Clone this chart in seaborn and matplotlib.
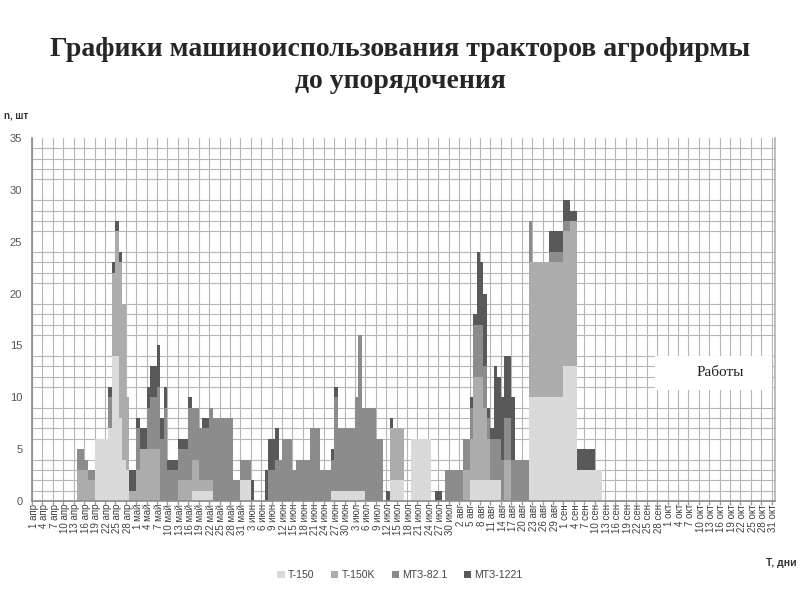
import matplotlib
matplotlib.use("Agg")
import matplotlib.pyplot as plt
import seaborn as sns
import numpy as np
import pandas as pd
from matplotlib.patches import Rectangle, Patch

sns.set_theme(style="white")
plt.rcParams['font.family'] = ['Liberation Sans', 'DejaVu Sans']

# ---- calendar / tick labels ----
months = ["апр", "май", "июн", "июл", "авг", "сен", "окт"]
month_len = [30, 31, 30, 31, 31, 30, 31]
day_labels = [f"{d} {m}" for m, n in zip(months, month_len) for d in range(1, n + 1)]

series_names = ["T-150", "T-150K", "МТЗ-82.1", "МТЗ-1221"]
series_colors = ["#dadada", "#acacac", "#8c8c8c", "#595959"]

# ---- daily counts of working tractors ----
t150 = (
    [0,0,0,0,0,0,0,0,0,0, 0,0,0,0,0,0,0,0,6,6, 6,6,7,14,14,8,4,3,0,0] +            # апр
    [0,0,0,0,0,0,0,0,0,0, 0,0,0,0,0,0,1,1,1,1, 1,1,0,0,0,0,0,0,0,0, 2] +         # май
    [2,2,0,0,0,0,0,0,0,0, 0,0,0,0,0,0,0,0,0,0, 0,0,0,0,0,1,1,1,1,1] +            # июн
    [1,1,1,1,1,0,0,0,0,0, 0,0,2,2,2,2,0,0,6,6, 6,6,6,6,0,0,0,0,0,0, 0] +         # июл
    [0,0,0,0,2,2,2,2,2,2, 2,2,2,0,0,0,0,0,0,0, 0,10,10,10,10,10,10,10,10,10, 10] +  # авг
    [13,13,13,13,3,3,3,3,3,3, 3,0,0,0,0,0,0,0,0,0, 0,0,0,0,0,0,0,0,0,0] +        # сен
    [0,0,0,0,0,0,0,0,0,0, 0,0,0,0,0,0,0,0,0,0, 0,0,0,0,0,0,0,0,0,0, 0]           # окт
)
t150k = (
    [0,0,0,0,0,0,0,0,0,0, 0,0,0,3,3,3,2,2,0,0, 0,0,0,8,12,15,15,7,1,1] +
    [3,5,5,5,5,5,5,0,0,0, 0,0,2,2,2,2,3,3,1,1, 1,1,0,0,0,0,0,0,0,0, 0] +
    [0,0,0,0,0,0,0,0,0,0, 0,0,0,0,0,0,0,0,0,0, 0,0,0,0,0,0,0,0,0,0] +
    [0,0,0,0,0,0,0,0,0,0, 0,0,5,5,5,5,0,0,0,0, 0,0,0,0,0,0,0,0,0,0, 0] +
    [0,0,3,3,4,10,10,10,7,4, 0,0,0,0,4,4,0,0,0,0, 0,13,13,13,13,13,13,13,13,13, 13] +
    [13,13,14,14,0,0,0,0,0,0, 0,0,0,0,0,0,0,0,0,0, 0,0,0,0,0,0,0,0,0,0] +
    [0,0,0,0,0,0,0,0,0,0, 0,0,0,0,0,0,0,0,0,0, 0,0,0,0,0,0,0,0,0,0, 0]
)
mtz821 = (
    [0,0,0,0,0,0,0,0,0,0, 0,0,0,2,2,1,1,1,0,0, 0,0,3,0,0,0,0,0,0,0] +
    [4,0,0,4,5,5,6,6,9,3, 3,3,3,3,3,7,5,5,5,5, 5,7,8,8,8,8,8,8,2,2, 2] +
    [2,2,0,0,0,0,0,3,3,4, 4,6,6,6,3,4,4,4,4,7, 7,7,3,3,3,3,9,6,6,6] +
    [6,6,9,15,8,9,9,9,6,6, 0,0,0,0,0,0,0,0,0,0, 0,0,0,0,0,0,0,0,3,3, 3] +
    [3,3,3,3,3,5,5,5,4,2, 4,4,4,4,4,4,4,4,4,4, 4,4,0,0,0,0,0,1,1,1, 1] +
    [1,1,0,0,0,0,0,0,0,0, 0,0,0,0,0,0,0,0,0,0, 0,0,0,0,0,0,0,0,0,0] +
    [0,0,0,0,0,0,0,0,0,0, 0,0,0,0,0,0,0,0,0,0, 0,0,0,0,0,0,0,0,0,0, 0]
)
mtz1221 = (
    [0,0,0,0,0,0,0,0,0,0, 0,0,0,0,0,0,0,0,0,0, 0,0,1,1,1,1,0,0,2,2] +
    [1,2,2,2,3,3,4,2,2,1, 1,1,1,1,1,1,0,0,0,1, 1,0,0,0,0,0,0,0,0,0, 0] +
    [0,0,2,0,0,0,3,3,3,3, 0,0,0,0,0,0,0,0,0,0, 0,0,0,0,0,1,1,0,0,0] +
    [0,0,0,0,0,0,0,0,0,0, 0,1,1,0,0,0,0,0,0,0, 0,0,0,0,0,1,1,0,0,0, 0] +
    [0,0,0,0,1,1,7,6,7,1, 1,7,6,6,6,6,6,0,0,0, 0,0,0,0,0,0,0,2,2,2, 2] +
    [2,2,1,1,2,2,2,2,2,0, 0,0,0,0,0,0,0,0,0,0, 0,0,0,0,0,0,0,0,0,0] +
    [0,0,0,0,0,0,0,0,0,0, 0,0,0,0,0,0,0,0,0,0, 0,0,0,0,0,0,0,0,0,0, 0]
)

n_days = len(day_labels)
df = pd.DataFrame({"day": np.arange(n_days), "T-150": t150, "T-150K": t150k,
                   "МТЗ-82.1": mtz821, "МТЗ-1221": mtz1221})
cum = df[series_names].cumsum(axis=1)

fig = plt.figure(figsize=(8, 6), dpi=100)
ax = fig.add_axes([0.04, 0.165, 0.929, 0.605])

# stacked bars: draw cumulative totals from top layer down
for name, col in reversed(list(zip(series_names, series_colors))):
    sns.barplot(x=df["day"], y=cum[name], color=col, width=1.0, linewidth=0,
                saturation=1, errorbar=None, ax=ax, zorder=2)

ax.set_xlim(-0.5, n_days - 0.5)
ax.set_ylim(0, 35)
ax.set_xlabel("")
ax.set_ylabel("")

ax.set_xticks(np.arange(0, n_days, 3))
ax.set_xticklabels(day_labels[::3], rotation=90, fontsize=7, color="#404040")
ax.set_xticks(np.arange(-0.5, n_days, 3), minor=True)
ax.set_yticks(np.arange(0, 36, 5))
ax.set_yticklabels([str(v) for v in range(0, 36, 5)], fontsize=8, color="#555555")
ax.set_yticks(np.arange(0, 36, 1), minor=True)
ax.tick_params(axis="x", which="major", length=0, pad=2)
ax.tick_params(axis="x", which="minor", length=3, color="#9a9a9a", direction="out", bottom=True)
ax.tick_params(axis="y", which="both", length=0, pad=7)
ax.grid(False)
ax.grid(which="minor", axis="both", color="#b6b6b6", linewidth=0.8)
ax.set_axisbelow(True)
ax.spines["top"].set_visible(False)
ax.spines["right"].set_color("#b6b6b6")
ax.spines["left"].set_color("#8c8c8c")
ax.spines["bottom"].set_color("#8c8c8c")

# titles and axis captions
fig.text(0.5, 0.917, "Графики машиноиспользования тракторов агрофирмы",
         ha="center", va="center", fontsize=20, fontweight="bold", family="Liberation Serif")
fig.text(0.5, 0.865, "до упорядочения",
         ha="center", va="center", fontsize=20, fontweight="bold", family="Liberation Serif")
fig.text(4 / 800, 1 - 115 / 600, "n, шт", ha="left", va="center", fontsize=7, fontweight="bold",
         color="#333333")
fig.text(797 / 800, 1 - 563 / 600, "T, дни", ha="right", va="center", fontsize=7.5,
         fontweight="bold", color="#333333")

handles = [Patch(facecolor=c, edgecolor="none") for c in series_colors]
fig.legend(handles, series_names, loc="center", bbox_to_anchor=(0.5, 1 - 575 / 600), ncol=4,
           frameon=False, fontsize=7.5, handlelength=0.7, handleheight=0.7,
           columnspacing=1.6, handletextpad=0.3, labelcolor="#444444")

# "Работы" label box
fig.add_artist(Rectangle((655 / 800, 1 - 390 / 600), 117 / 800, 34 / 600,
                         transform=fig.transFigure, facecolor="white", edgecolor="none", zorder=5))
fig.text(720 / 800, 1 - 372 / 600, "Работы", ha="center", va="center", fontsize=11,
         family="Liberation Serif", color="#222222", zorder=6)

fig.savefig("out.png", dpi=100)
